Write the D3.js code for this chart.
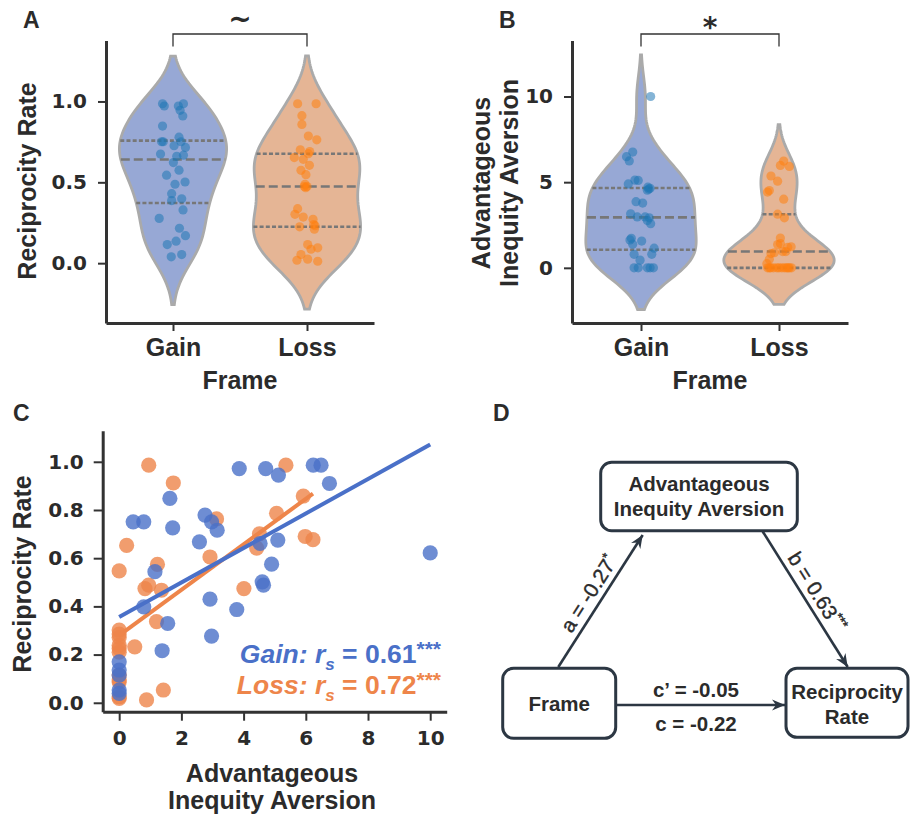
<!DOCTYPE html>
<html lang="en">
<head>
<meta charset="UTF-8">
<title>Frame, inequity aversion and reciprocity</title>
<script src="https://d3js.org/d3.v7.min.js"></script>
<style>
    body { margin: 0; background: #fff; }
    svg { display: block; }
    .lab { font-family: "Liberation Sans", Arial, sans-serif; font-weight: bold; fill: #2b2b2b; }
    .tick text { font-family: "DejaVu Sans", sans-serif; font-weight: bold; fill: #2b2b2b; }
</style>
</head>
<body>
<svg width="910" height="821"></svg>
<script>
    // one entry per participant, sorted by reciprocity rate
    const frames = ["Gain", "Loss"];

    const gainRR  = [0.039, 0.053, 0.115, 0.136, 0.17, 0.216, 0.277, 0.329, 0.387, 0.398, 0.43, 0.488, 0.502, 0.544, 0.575, 0.622,
                     0.661, 0.668, 0.675, 0.716, 0.726, 0.751, 0.751, 0.751, 0.779, 0.848, 0.91, 0.945, 0.972, 0.972, 0.986, 0.986];
    const gainAIA = [0, 0, 0, 0, 0, 1.38, 2.97, 1.56, 3.78, 0.79, 2.92, 4.64, 4.60, 1.15, 4.90, 10,
                     4.53, 2.58, 5.10, 3.15, 1.72, 0.45, 0.79, 2.97, 2.76, 1.63, 6.76, 5.12, 3.86, 4.71, 6.24, 6.49];
    const lossRR  = [0.012, 0.018, 0.025, 0.053, 0.086, 0.095, 0.115, 0.21, 0.225, 0.232, 0.239, 0.271, 0.285, 0.302, 0.337, 0.467, 0.474,
                     0.474, 0.488, 0.547, 0.574, 0.605, 0.642, 0.653, 0.677, 0.69, 0.701, 0.763, 0.786, 0.858, 0.912, 0.986, 0.986];
    const lossAIA = [0.88, 0, 0, 1.42, 0, 0, 0, 0, 0, 0.5, 0, 0, 0, 0, 1.20, 1.36, 0.83,
                     4.01, 0.95, 0, 1.23, 2.92, 4.42, 0.24, 6.23, 5.98, 4.51, 3.13, 5.06, 5.92, 1.74, 0.95, 5.36];

    const gainJitA = [-0.013, 0.065, -0.043, 0.023, 0.093, 0.048, -0.103, 0.075, -0.01, 0.065, -0.01, 0.015, 0.09, -0.048, 0.045, 0.003,
                      0.028, 0.078, -0.093, 0.093, 0.008, -0.073, -0.085, 0.06, 0.045, -0.078, 0.073, 0.053, 0.04, -0.065, -0.078, 0.078];
    const gainJitB = [-0.05, -0.02, 0.046, 0.066, 0.09, -0.06, -0.027, 0.005, 0.012, -0.05, 0.06, 0.066, 0.056, 0.095, -0.092, 0.07,
                      0.046, 0.07, -0.02, -0.075, -0.07, -0.007, 0.078, 0.03, 0.046, -0.08, -0.06, -0.044, -0.036, 0.05, -0.085, -0.105];
    const lossJitA = [0.08, -0.075, 0.005, -0.045, 0.03, 0.08, 0.005, 0.055, -0.055, 0.06, 0.05, 0.045, -0.028, -0.09, -0.07, -0.01, -0.02,
                      0.0, -0.015, -0.008, -0.045, 0.018, -0.028, -0.095, 0.01, 0.02, -0.05, 0.073, 0.01, -0.038, -0.038, -0.07, 0.068];
    const lossJitB = [-0.034, -0.083, -0.06, 0.01, -0.04, -0.015, 0.0, 0.02, 0.039, -0.07, 0.055, 0.075, 0.09, -0.07, 0.063, -0.01, -0.058,
                      0.034, 0.027, 0.065, 0.088, 0.039, -0.083, -0.088, 0.034, 0.01, -0.07, -0.01, -0.01, 0.075, 0.01, 0.05, -0.058];

    const ticksA = [0, 0.5, 1.0];
    const ticksB = [0, 5, 10];
    const ticksCx = [0, 2, 4, 6, 8, 10];
    const ticksCy = [0, 0.2, 0.4, 0.6, 0.8, 1.0];

    const sigA = "~";
    const sigB = "*";
    const rsValues = ["0.61", "0.72"];
    const rsStars = ["***", "***"];

    // mediation model
    const pathA = ["a = -0.27", "*"];
    const pathB = ["b = 0.63", "***"];
    const pathCprime = "c\u2019 = -0.05";
    const pathC = "c = -0.22";

    const violinFill = ["#97a8d5", "#e5b595"];
    const stripColor = ["#1f77b4", "#ff7f0e"];
    const scatColor = ["#4a70c8", "#ee854a"];
    const ink = "#2b2b2b";

    const svg = d3.select("svg");

    // gaussian KDE, scott bandwidth, cut = 2 (as seaborn does)
    function kde(values, gridsize = 100, cut = 2) {
        const n = values.length;
        const bw = Math.pow(n, -0.2) * d3.deviation(values);
        const lo = d3.min(values) - cut * bw, hi = d3.max(values) + cut * bw;
        const c = 1 / (n * bw * Math.sqrt(2 * Math.PI));
        return d3.range(gridsize).map(i => {
            const g = lo + (hi - lo) * i / (gridsize - 1);
            return [g, c * d3.sum(values, v => Math.exp(-0.5 * ((g - v) / bw) ** 2))];
        });
    }

    function styleAxis(g, size) {
        g.select(".domain").attr("stroke", "#333").attr("stroke-width", 3);
        g.selectAll(".tick line").attr("stroke", "#333").attr("stroke-width", 2);
        g.selectAll(".tick text").attr("font-size", size);
    }

    function violinPanel(opt) {
        const x = d3.scaleLinear().domain([-0.5, 1.5]).range(opt.xr);
        const y = d3.scaleLinear().domain(opt.yd).range([323, 40.5]);
        const half = 0.4 * (x(1) - x(0));

        opt.groups.forEach((vals, i) => {
            const dens = kde(vals);
            const dmax = d3.max(dens, d => d[1]);
            const w = d => half * d / dmax;
            const area = d3.area()
                .y(d => y(d[0]))
                .x0(d => x(i) - w(d[1]))
                .x1(d => x(i) + w(d[1]));
            svg.append("path")
                .attr("d", area(dens))
                .attr("fill", violinFill[i])
                .attr("stroke", "#aaa")
                .attr("stroke-width", 2.8);

            const sorted = vals.slice().sort(d3.ascending);
            [0.25, 0.5, 0.75].forEach(q => {
                const v = d3.quantile(sorted, q);
                const j = d3.bisector(d => d[0]).left(dens, v);
                const a = dens[Math.max(j - 1, 0)], b = dens[j];
                const t = b[0] === a[0] ? 0 : (v - a[0]) / (b[0] - a[0]);
                const dv = a[1] + t * (b[1] - a[1]);
                svg.append("line")
                    .attr("x1", x(i) - w(dv)).attr("x2", x(i) + w(dv))
                    .attr("y1", y(v)).attr("y2", y(v))
                    .attr("stroke", "#777")
                    .attr("stroke-width", 2.6)
                    .attr("stroke-dasharray", q === 0.5 ? "9,4" : "4,2.2");
            });

            svg.append("g").selectAll("circle")
                .data(vals)
                .join("circle")
                .attr("cx", (d, k) => x(i + opt.jitter[i][k]))
                .attr("cy", d => y(d))
                .attr("r", 4.6)
                .attr("fill", stripColor[i])
                .attr("fill-opacity", 0.55);
        });

        const ya = svg.append("g")
            .attr("transform", `translate(${opt.xr[0]},0)`)
            .call(d3.axisLeft(y).tickValues(opt.ticks).tickFormat(opt.fmt).tickSize(8).tickSizeOuter(0).tickPadding(11));
        styleAxis(ya, 20);
        const xa = svg.append("g")
            .attr("transform", "translate(0,323)")
            .call(d3.axisBottom(x).tickValues([0, 1]).tickFormat(i => frames[i]).tickSize(8).tickSizeOuter(0).tickPadding(7));
        styleAxis(xa, 25);
        xa.selectAll(".tick text")
            .style("font-family", "'Liberation Sans', Arial, sans-serif");

        svg.append("text").attr("class", "lab")
            .attr("x", x(0.5)).attr("y", 389)
            .attr("text-anchor", "middle").attr("font-size", 25)
            .text("Frame");

        // significance bracket
        svg.append("path")
            .attr("d", `M${x(0)},46.5V34H${x(1)}V46.5`)
            .attr("fill", "none").attr("stroke", "#333").attr("stroke-width", 1.3);
        svg.append("text").attr("class", "lab")
            .attr("x", x(0.5)).attr("y", opt.sigY)
            .attr("text-anchor", "middle")
            .style("font-family", "'DejaVu Sans', sans-serif")
            .attr("font-size", opt.sigSize)
            .text(opt.sig);
        return {x, y};
    }

    // ---- Panel A
    violinPanel({
        xr: [106, 374], yd: [-0.37, 1.377], groups: [gainRR, lossRR],
        jitter: [gainJitA, lossJitA], ticks: ticksA, fmt: d3.format(".1f"),
        sig: sigA, sigY: 28, sigSize: 28
    });
    svg.append("text").attr("class", "lab")
        .attr("transform", "translate(36,181) rotate(-90)")
        .attr("text-anchor", "middle").attr("font-size", 25)
        .text("Reciprocity Rate");

    // ---- Panel B
    violinPanel({
        xr: [572, 848], yd: [-3.22, 13.27], groups: [gainAIA, lossAIA],
        jitter: [gainJitB, lossJitB], ticks: ticksB, fmt: d3.format("d"),
        sig: sigB, sigY: 37, sigSize: 28
    });
    ["Advantageous", "Inequity Aversion"].forEach((t, i) => {
        svg.append("text").attr("class", "lab")
            .attr("transform", `translate(${490 + i * 28},183) rotate(-90)`)
            .attr("text-anchor", "middle").attr("font-size", 25)
            .text(t);
    });

    // ---- Panel C
    const xC = d3.scaleLinear().domain([-0.53, 10.53]).range([102.7, 446.7]);
    const yC = d3.scaleLinear().domain([-0.037, 1.129]).range([711.7, 430.7]);

    const groupsC = [
        {rr: gainRR, aia: gainAIA},
        {rr: lossRR, aia: lossAIA}
    ];
    // loss drawn first, gain on top
    [1, 0].forEach(i => {
        const g = groupsC[i];
        const pts = g.aia.map((a, k) => [a, g.rr[k]]);
        svg.append("g").selectAll("circle")
            .data(pts)
            .join("circle")
            .attr("cx", d => xC(d[0]))
            .attr("cy", d => yC(d[1]))
            .attr("r", 7.6)
            .attr("fill", scatColor[i])
            .attr("fill-opacity", 0.8);

        // least-squares fit over the observed range
        const mx = d3.mean(g.aia), my = d3.mean(g.rr);
        const slope = d3.sum(pts, d => (d[0] - mx) * (d[1] - my)) / d3.sum(pts, d => (d[0] - mx) ** 2);
        const icpt = my - slope * mx;
        const ext = d3.extent(g.aia);
        svg.append("path")
            .attr("d", d3.line().x(d => xC(d)).y(d => yC(icpt + slope * d))(ext))
            .attr("stroke", scatColor[i])
            .attr("stroke-width", 4)
            .attr("fill", "none");
    });

    const yaC = svg.append("g")
        .attr("transform", "translate(102.7,0)")
        .call(d3.axisLeft(yC).tickValues(ticksCy).tickFormat(d3.format(".1f")).tickSize(9).tickSizeOuter(0).tickPadding(10));
    styleAxis(yaC, 20);
    const xaC = svg.append("g")
        .attr("transform", "translate(0,711.7)")
        .call(d3.axisBottom(xC).tickValues(ticksCx).tickFormat(d3.format("d")).tickSize(9).tickSizeOuter(0).tickPadding(10));
    styleAxis(xaC, 20);

    svg.append("text").attr("class", "lab")
        .attr("transform", "translate(31,574) rotate(-90)")
        .attr("text-anchor", "middle").attr("font-size", 25)
        .text("Reciprocity Rate");
    ["Advantageous", "Inequity Aversion"].forEach((t, i) => {
        svg.append("text").attr("class", "lab")
            .attr("x", 272).attr("y", 782 + i * 27)
            .attr("text-anchor", "middle").attr("font-size", 25)
            .text(t);
    });

    frames.forEach((f, i) => {
        const t = svg.append("text").attr("class", "lab")
            .attr("x", 441).attr("y", 663 + i * 31)
            .attr("text-anchor", "end").attr("font-size", 26.5)
            .style("fill", scatColor[i]);
        t.append("tspan").attr("font-style", "italic").text(f + ": r");
        t.append("tspan").attr("font-style", "italic").attr("font-size", 17).attr("dy", 7).text("s");
        t.append("tspan").attr("dy", -7).text(" = " + rsValues[i]);
        t.append("tspan").attr("font-size", 21).attr("dy", -7).text(rsStars[i]);
    });

    // ---- Panel D: mediation diagram
    const dark = "#2c3743";
    svg.append("defs").append("marker")
        .attr("id", "head").attr("viewBox", "-14 -7 16 14")
        .attr("refX", 0).attr("refY", 0)
        .attr("markerWidth", 16).attr("markerHeight", 14)
        .attr("markerUnits", "userSpaceOnUse")
        .attr("orient", "auto")
        .append("path").attr("d", "M0,0L-13,-5.5L-9,0L-13,5.5Z").attr("fill", dark);

    const boxes = [
        {x: 600.7, y: 462.3, w: 196.6, h: 68.4, lines: ["Advantageous", "Inequity Aversion"], base: 490.5},
        {x: 502.7, y: 668.3, w: 113, h: 70, lines: ["Frame"], base: 710.5},
        {x: 786, y: 668.3, w: 122, h: 69, lines: ["Reciprocity", "Rate"], base: 698.5}
    ];
    boxes.forEach(b => {
        svg.append("rect")
            .attr("x", b.x).attr("y", b.y).attr("width", b.w).attr("height", b.h)
            .attr("rx", 11).attr("fill", "#fff")
            .attr("stroke", dark).attr("stroke-width", 3);
        b.lines.forEach((t, i) => {
            svg.append("text").attr("class", "lab")
                .attr("x", b.x + b.w / 2).attr("y", b.base + i * 25.5)
                .attr("text-anchor", "middle").attr("font-size", 20.5)
                .text(t);
        });
    });

    const arrows = [
        {x1: 558.3, y1: 667, x2: 642.7, y2: 535, label: pathA},
        {x1: 762.7, y1: 531.5, x2: 847.7, y2: 667, label: pathB},
        {x1: 616.5, y1: 705, x2: 785, y2: 705}
    ];
    arrows.forEach(a => {
        svg.append("line")
            .attr("x1", a.x1).attr("y1", a.y1).attr("x2", a.x2).attr("y2", a.y2)
            .attr("stroke", dark).attr("stroke-width", 2.6)
            .attr("marker-end", "url(#head)");
        if (!a.label) return;
        const dx = a.x2 - a.x1, dy = a.y2 - a.y1, len = Math.hypot(dx, dy);
        const ang = Math.atan2(dy, dx) * 180 / Math.PI;
        // label sits on the outer (upper) side of the arrow
        const nx = dy / len, ny = -dx / len;
        const cx = (a.x1 + a.x2) / 2 + nx * 14, cy = (a.y1 + a.y2) / 2 + ny * 14;
        const t = svg.append("text")
            .attr("transform", `translate(${cx},${cy}) rotate(${ang})`)
            .attr("text-anchor", "middle")
            .attr("dy", "0.36em")
            .attr("font-family", "Liberation Sans, Arial, sans-serif")
            .attr("font-size", 20.5)
            .attr("fill", ink)
            .attr("stroke", ink).attr("stroke-width", 0.4);
        t.append("tspan").text(a.label[0]);
        t.append("tspan").attr("font-size", 13).attr("dy", -8).text(a.label[1]);
    });

    svg.append("text").attr("class", "lab")
        .attr("x", 696).attr("y", 696.5).attr("text-anchor", "middle").attr("font-size", 20.5)
        .text(pathCprime);
    svg.append("text").attr("class", "lab")
        .attr("x", 696).attr("y", 730.5).attr("text-anchor", "middle").attr("font-size", 20.5)
        .text(pathC);

    // panel letters
    [["A", 23, 28], ["B", 499, 28], ["C", 13, 421], ["D", 493, 421]].forEach(([l, x, y]) => {
        svg.append("text").attr("class", "lab")
            .attr("x", x).attr("y", y).attr("font-size", 23)
            .text(l);
    });
</script>
</body>
</html>
